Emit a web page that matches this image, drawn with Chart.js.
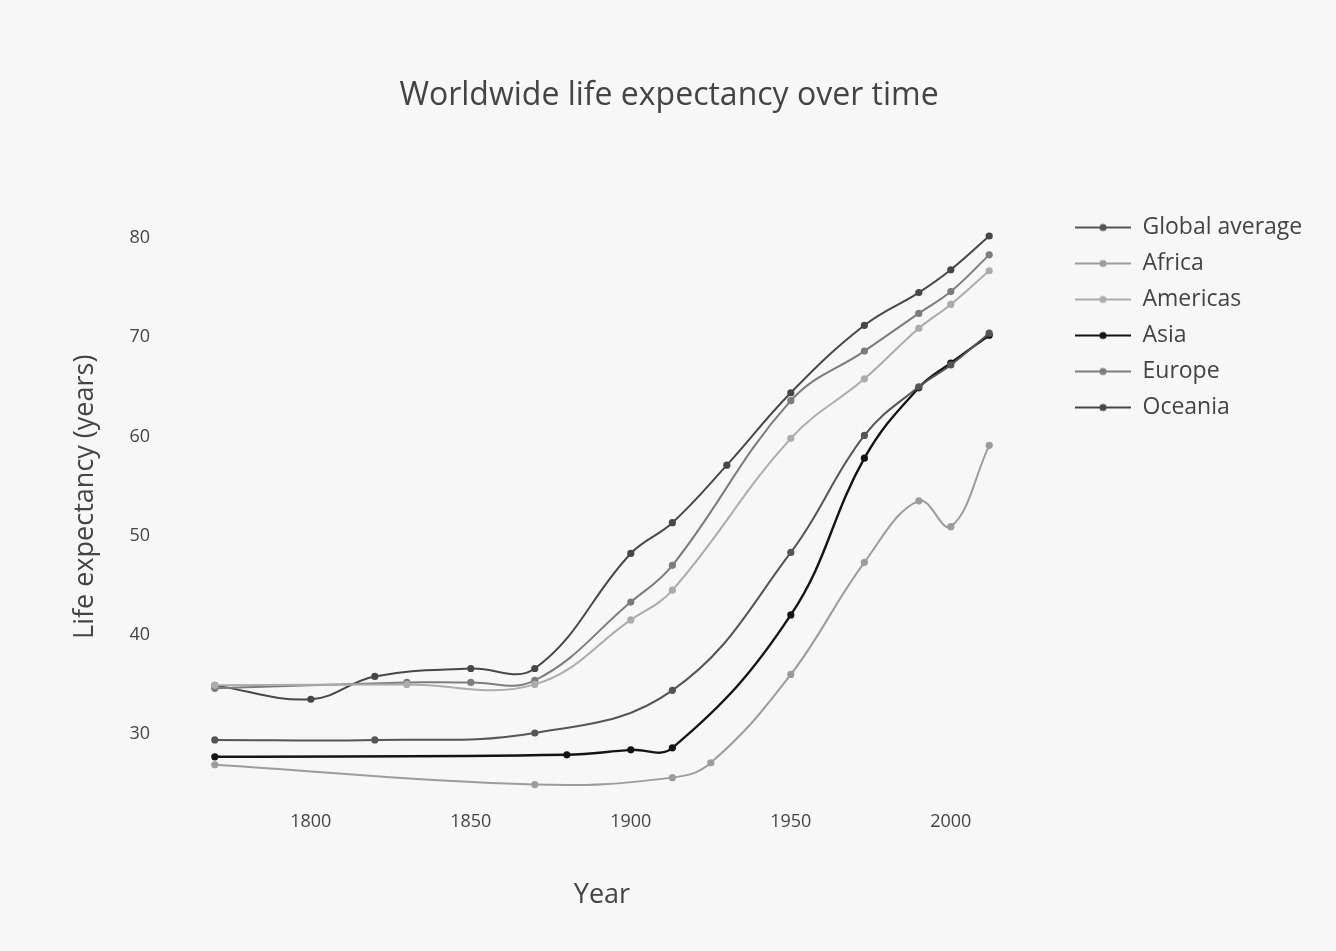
<!DOCTYPE html>
<html>
<head>
<meta charset="utf-8">
<title>Worldwide life expectancy over time</title>
<script src="https://cdn.jsdelivr.net/npm/chart.js@4.4.1/dist/chart.umd.min.js"></script>
<style>
  html, body { margin: 0; padding: 0; background: #f7f7f7; }
  #wrap { width: 1336px; height: 951px; }
</style>
</head>
<body>
<div id="wrap"><canvas id="life-chart" width="1336" height="951"></canvas></div>
<script>
// --- data ---
const SERIES_NAMES = ['Global average', 'Africa', 'Americas', 'Asia', 'Europe', 'Oceania'];
const SERIES_COLORS = ['#555555', '#9c9c9c', '#acacac', '#141414', '#7c7c7c', '#474747'];

const globalYears = [1770, 1820, 1870, 1913, 1950, 1973, 1990, 2000, 2012];
const globalValues = [29.4, 29.4, 30.1, 34.4, 48.3, 60.1, 65.0, 67.2, 70.4];

const africaYears = [1770, 1870, 1913, 1925, 1950, 1973, 1990, 2000, 2012];
const africaValues = [26.9, 24.9, 25.6, 27.1, 36.0, 47.3, 53.5, 50.9, 59.1];

const americasYears = [1770, 1830, 1870, 1900, 1913, 1950, 1973, 1990, 2000, 2012];
const americasValues = [34.9, 35.0, 35.0, 41.5, 44.5, 59.8, 65.8, 70.9, 73.3, 76.7];

const asiaYears = [1770, 1880, 1900, 1913, 1950, 1973, 1990, 2000, 2012];
const asiaValues = [27.7, 27.9, 28.4, 28.6, 42.0, 57.8, 64.9, 67.4, 70.2];

const europeYears = [1770, 1830, 1850, 1870, 1900, 1913, 1950, 1973, 1990, 2000, 2012];
const europeValues = [34.6, 35.2, 35.2, 35.4, 43.3, 47.0, 63.6, 68.6, 72.4, 74.6, 78.3];

const oceaniaYears = [1770, 1800, 1820, 1850, 1870, 1900, 1913, 1930, 1950, 1973, 1990, 2000, 2012];
const oceaniaValues = [34.9, 33.5, 35.8, 36.6, 36.6, 48.2, 51.3, 57.1, 64.4, 71.2, 74.5, 76.8, 80.2];

const X_TICKS = [1800, 1850, 1900, 1950, 2000];
const Y_TICKS = [30, 40, 50, 60, 70, 80];

const seriesYears = [globalYears, africaYears, americasYears, asiaYears, europeYears, oceaniaYears];
const seriesValues = [globalValues, africaValues, americasValues, asiaValues, europeValues, oceaniaValues];

// legend swatch: blank lead-in (gap from the plot), then a short line with a dot
const SWATCH_GAP = 60;
const SWATCH_LINE = 56;
function legendSwatch(color) {
    const c = document.createElement('canvas');
    c.width = SWATCH_GAP + SWATCH_LINE; c.height = 12;
    const g = c.getContext('2d');
    g.strokeStyle = color; g.lineWidth = 2;
    g.beginPath(); g.moveTo(SWATCH_GAP, 6); g.lineTo(SWATCH_GAP + SWATCH_LINE, 6); g.stroke();
    g.fillStyle = color;
    g.beginPath(); g.arc(SWATCH_GAP + SWATCH_LINE / 2, 6, 3.6, 0, Math.PI * 2); g.fill();
    return c;
}

Chart.defaults.font.family = '"Open Sans", "DejaVu Sans", sans-serif';
Chart.defaults.color = '#444';

const datasets = SERIES_NAMES.map((name, i) => ({
    label: name,
    data: seriesYears[i].map((yr, j) => ({ x: yr, y: seriesValues[i][j] })),
    borderColor: SERIES_COLORS[i],
    backgroundColor: SERIES_COLORS[i],
    borderWidth: i === 3 ? 2.4 : 2,
    pointRadius: 3.6,
    pointBorderWidth: 0,
    pointBackgroundColor: SERIES_COLORS[i],
    tension: 0.4,
    fill: false,
    clip: false
}));

new Chart(document.getElementById('life-chart').getContext('2d'), {
    type: 'line',
    data: { datasets },
    options: {
        responsive: false,
        animation: false,
        devicePixelRatio: 1,
        layout: { padding: { top: 0, left: 31, right: 29, bottom: 0 } },
        plugins: {
            title: {
                display: true,
                text: 'Worldwide life expectancy over time',
                font: { size: 32, weight: 'normal' },
                color: '#444',
                padding: { top: 77, bottom: 84.6 }
            },
            legend: {
                position: 'right',
                align: 'start',
                fullSize: false,
                maxWidth: 305,
                title: { display: true, text: '', font: { size: 1 }, padding: { top: 1.8, bottom: 0 } },
                labels: {
                    usePointStyle: true,
                    pointStyleWidth: SWATCH_GAP + SWATCH_LINE,
                    padding: 13,
                    color: '#444',
                    font: { size: 23 },
                    generateLabels: (chart) => chart.data.datasets.map((ds, i) => ({
                        text: ds.label,
                        pointStyle: legendSwatch(ds.borderColor),
                        fillStyle: ds.borderColor,
                        strokeStyle: ds.borderColor,
                        lineWidth: 0,
                        hidden: false,
                        datasetIndex: i
                    }))
                }
            },
            tooltip: { enabled: false }
        },
        scales: {
            x: {
                type: 'linear',
                min: 1766,
                max: 2016,
                grid: { display: false, drawTicks: false },
                border: { display: false },
                afterBuildTicks: (scale) => { scale.ticks = X_TICKS.map(v => ({ value: v })); },
                afterFit: (scale) => { scale.height = 157.5; },
                ticks: { padding: 18, font: { size: 18 }, color: '#444', callback: (v) => String(v) },
                title: { display: true, text: 'Year', font: { size: 27 }, color: '#444', padding: { top: 0, bottom: 39 } }
            },
            y: {
                type: 'linear',
                min: 24,
                max: 83.83,
                grid: { display: false, drawTicks: false },
                border: { display: false },
                afterBuildTicks: (scale) => { scale.ticks = Y_TICKS.map(v => ({ value: v })); },
                afterFit: (scale) => { scale.width = 171; },
                ticks: { padding: 52, font: { size: 18 }, color: '#444' },
                title: { display: true, text: 'Life expectancy (years)', font: { size: 27 }, color: '#444', padding: { top: 38, bottom: 0 } }
            }
        }
    }
});
</script>
</body>
</html>
